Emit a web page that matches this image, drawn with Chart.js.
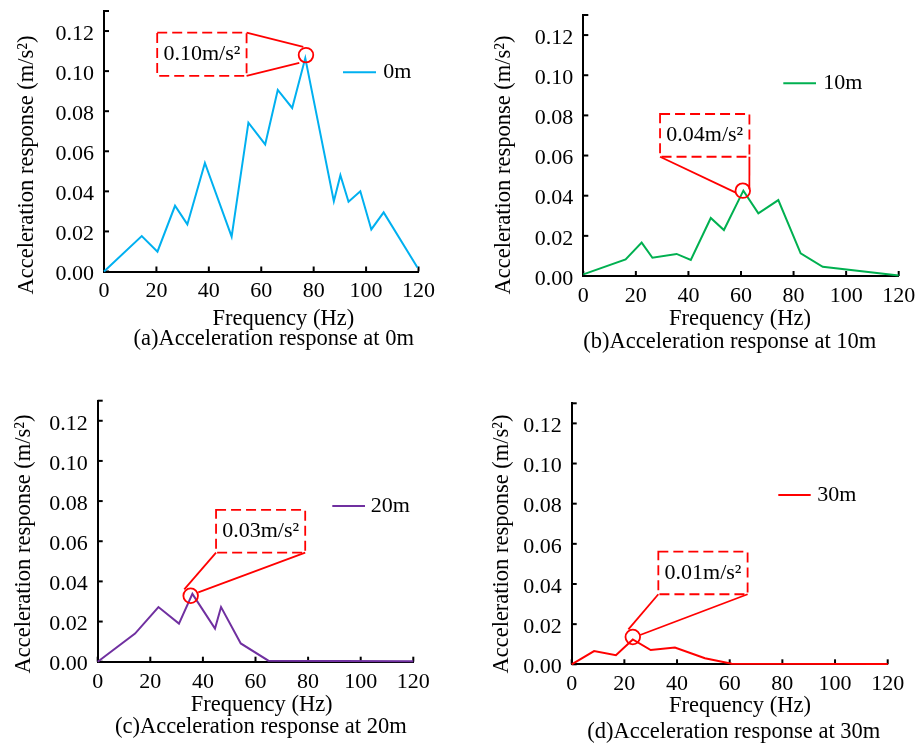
<!DOCTYPE html>
<html><head><meta charset="utf-8">
<script src="https://cdn.jsdelivr.net/npm/chart.js@4.4.1/dist/chart.umd.min.js"></script>
<style>
html,body{margin:0;padding:0;background:#fff;}
#wrap{position:relative;width:922px;height:744px;overflow:hidden;background:#fff;}
#wrap canvas{position:absolute;left:0;top:0;}
</style></head><body>
<div id="wrap">
<canvas id="c0" width="922" height="744"></canvas>
<canvas id="c1" width="922" height="744"></canvas>
<canvas id="c2" width="922" height="744"></canvas>
<canvas id="c3" width="922" height="744"></canvas>
</div>
<script>
// ---------- data ----------
const freqA = [0, 14.4, 20.4, 27.1, 31.8, 38.5, 48.7, 55.1, 61.5, 66.3, 71.8, 76.8, 87.7, 90.2, 93.3, 97.8, 102, 106.7, 119.6];
const accA  = [0, 0.0177, 0.0099, 0.0328, 0.0235, 0.0542, 0.0174, 0.0743, 0.0634, 0.0906, 0.0816, 0.1065, 0.0351, 0.0480, 0.0348, 0.0400, 0.0210, 0.0295, 0.0020];
const freqB = [0, 16.1, 22.2, 26.3, 35.5, 40.9, 48.5, 53.5, 60.9, 66.6, 74.2, 82.7, 91.1, 120];
const accB  = [0.0008, 0.0083, 0.0166, 0.0091, 0.0110, 0.0080, 0.0289, 0.0229, 0.0425, 0.0312, 0.0378, 0.0113, 0.0046, 0.0003];
const freqC = [0, 14.2, 23.1, 30.9, 36.0, 44.6, 46.9, 54.4, 64.9, 120];
const accC  = [0, 0.0140, 0.0272, 0.0190, 0.0338, 0.0165, 0.0272, 0.0091, 0.0005, 0.0002];
const freqD = [0, 8.5, 16.8, 23.2, 30.0, 39.2, 50.6, 60.8, 120];
const accD  = [0, 0.0066, 0.0045, 0.0124, 0.0071, 0.0084, 0.0030, 0.0003, 0.0002];

const seriesLabels = ['0m', '10m', '20m', '30m'];
const captions = ['(a)Acceleration response at 0m', '(b)Acceleration response at 10m',
                  '(c)Acceleration response at 20m', '(d)Acceleration response at 30m'];
const peakLabels = ['0.10m/s²', '0.04m/s²', '0.03m/s²', '0.01m/s²'];
const xTickValues = [0, 20, 40, 60, 80, 100, 120];
const xTickLabels = ['0', '20', '40', '60', '80', '100', '120'];
const yTickValues = [0, 0.02, 0.04, 0.06, 0.08, 0.10, 0.12];
const yTickLabels = ['0.00', '0.02', '0.04', '0.06', '0.08', '0.10', '0.12'];
const xAxisMax = 120;
const yAxisMax = 0.13;
const xTitle = 'Frequency (Hz)';
const yTitle = 'Acceleration response (m/s²)';

// ---------- layout & style ----------
const FONT = '"Liberation Serif", "Times New Roman", serif';
const seriesColors = ['#00B0F0', '#00B050', '#7030A0', '#FF0000'];
const annoColor = '#FF0000';
const W = 922, H = 744, YW = 80, XH = 40;
// chart-area rectangles [left, top, right, bottom] in page pixels
const areas = [[104, 11, 418.5, 271.5], [583.3, 15, 898.7, 276], [97.7, 400.7, 413.3, 661.7], [571.7, 403.3, 887.7, 664.3]];
const yTitlePos = [[27, 165], [504, 165], [24, 544], [502, 544]];
const xTitlePos = [[283.3, 319], [740, 319], [261.7, 705], [740, 706]];
const captionPos = [[273.7, 339], [729.8, 342], [260.8, 727], [733.8, 732]];
// legend: [lineStartX, y, lineEndX, textX]
const legendPos = [[343, 72.3, 376, 383.3], [783.3, 83.3, 816, 823.3], [332.3, 506, 365, 370.7], [778.3, 495, 810.7, 817.3]];
// callout boxes, in data units: [x1, x2], [y1, y2]
const boxXs = [[20.3, 54.4], [29.2, 63.2], [45, 78.9], [32.9, 66.8]];
const boxYs = [[0.0976, 0.1192], [0.0594, 0.0807], [0.0543, 0.0756], [0.0349, 0.0561]];
// circle shift (px) from the peak point
const circleShift = [[0.7, -3], [-0.6, 0], [-1.7, 1.9], [0, -2.4]];
// leader lines: [box corner, offset from circle centre (px)]
const leaders = [
  [['tr', [-2.7, -8.3]], ['br', [-6.7, 7.7]]],
  [['bl', [-7, 2]], ['br', [6.6, -1.4]]],
  [['bl', [-6.4, -6.4]], ['br', [7.6, -3.4]]],
  [['bl', [-4.4, -7.7]], ['br', [7.3, -2]]]
];

const freqs = [freqA, freqB, freqC, freqD];
const accs = [accA, accB, accC, accD];

const deco = {
  id: 'deco',
  beforeDatasetsDraw(chart, args, opts) {
    const ctx = chart.ctx, a = chart.chartArea, xs = chart.scales.x, ys = chart.scales.y;
    ctx.save();
    ctx.strokeStyle = '#000';
    ctx.lineWidth = 2;
    xs.ticks.forEach(t => {
      const px = xs.getPixelForValue(t.value);
      ctx.beginPath(); ctx.moveTo(px, a.bottom); ctx.lineTo(px, a.bottom - 5); ctx.stroke();
    });
    ys.ticks.forEach(t => {
      const py = ys.getPixelForValue(t.value);
      ctx.beginPath(); ctx.moveTo(a.left, py); ctx.lineTo(a.left + 5, py); ctx.stroke();
    });
    ctx.restore();
  },
  afterDraw(chart, args, opts) {
    const i = opts.idx;
    const ctx = chart.ctx, xs = chart.scales.x, ys = chart.scales.y;
    const ds = chart.data.datasets[0];
    ctx.save();
    // axis titles & caption
    ctx.fillStyle = '#000';
    ctx.font = '22.5px ' + FONT;
    ctx.textAlign = 'center';
    ctx.textBaseline = 'middle';
    ctx.fillText(xTitle, xTitlePos[i][0], xTitlePos[i][1]);
    ctx.fillText(captions[i], captionPos[i][0], captionPos[i][1]);
    ctx.save();
    ctx.translate(yTitlePos[i][0], yTitlePos[i][1]);
    ctx.rotate(-Math.PI / 2);
    ctx.fillText(yTitle, 0, 0);
    ctx.restore();
    // legend
    const lp = legendPos[i];
    ctx.strokeStyle = ds.borderColor;
    ctx.lineWidth = 2;
    ctx.beginPath(); ctx.moveTo(lp[0], lp[1]); ctx.lineTo(lp[2], lp[1]); ctx.stroke();
    ctx.textAlign = 'left';
    ctx.font = '22px ' + FONT;
    ctx.fillText(ds.label, lp[3], lp[1]);
    // callout
    const bx1 = xs.getPixelForValue(boxXs[i][0]), bx2 = xs.getPixelForValue(boxXs[i][1]);
    const by1 = ys.getPixelForValue(boxYs[i][1]), by2 = ys.getPixelForValue(boxYs[i][0]);
    ctx.strokeStyle = annoColor;
    ctx.lineWidth = 1.8;
    ctx.setLineDash([10, 5]);
    ctx.strokeRect(bx1, by1, bx2 - bx1, by2 - by1);
    ctx.setLineDash([]);
    const d = accs[i];
    let k = 0; d.forEach((v, j) => { if (v > d[k]) k = j; });
    const cx = xs.getPixelForValue(freqs[i][k]) + circleShift[i][0];
    const cy = ys.getPixelForValue(d[k]) + circleShift[i][1];
    ctx.beginPath(); ctx.arc(cx, cy, 7.3, 0, Math.PI * 2); ctx.stroke();
    const corner = c => [c[1] === 'l' ? bx1 : bx2, c[0] === 't' ? by1 : by2];
    leaders[i].forEach(([c, off]) => {
      const p = corner(c);
      ctx.beginPath(); ctx.moveTo(p[0], p[1]); ctx.lineTo(cx + off[0], cy + off[1]); ctx.stroke();
    });
    ctx.fillStyle = '#000';
    ctx.textAlign = 'center';
    ctx.font = '22px ' + FONT;
    ctx.fillText(peakLabels[i], (bx1 + bx2) / 2, (by1 + by2) / 2);
    ctx.restore();
  }
};

for (let i = 0; i < 4; i++) {
  const ar = areas[i];
  new Chart(document.getElementById('c' + i), {
    type: 'line',
    data: {
      datasets: [{
        label: seriesLabels[i],
        data: freqs[i].map((f, j) => ({x: f, y: accs[i][j]})),
        borderColor: seriesColors[i],
        backgroundColor: seriesColors[i],
        borderWidth: 2,
        pointRadius: 0,
        tension: 0,
        fill: false,
        clip: false
      }]
    },
    options: {
      responsive: false,
      animation: false,
      events: [],
      layout: {
        autoPadding: false,
        padding: {left: ar[0] - YW, top: ar[1], right: W - ar[2], bottom: H - ar[3] - XH}
      },
      plugins: {
        legend: {display: false},
        tooltip: {enabled: false},
        title: {display: false},
        deco: {idx: i}
      },
      scales: {
        x: {
          type: 'linear', min: 0, max: xAxisMax,
          grid: {display: false, drawTicks: false},
          border: {display: true, color: '#000', width: 2},
          ticks: {font: {family: FONT, size: 22}, color: '#000', padding: 7, maxRotation: 0, autoSkip: false,
                   callback: (v, j) => xTickLabels[j]},
          afterBuildTicks: s => { s.ticks = xTickValues.map(v => ({value: v})); },
          afterFit: s => { s.height = XH; s.paddingLeft = 0; s.paddingRight = 0; }
        },
        y: {
          type: 'linear', min: 0, max: yAxisMax,
          grid: {display: false, drawTicks: false},
          border: {display: true, color: '#000', width: 2},
          ticks: {font: {family: FONT, size: 22}, color: '#000', padding: 10, labelOffset: 3, autoSkip: false,
                  callback: (v, j) => (j < yTickLabels.length ? yTickLabels[j] : '')},
          afterBuildTicks: s => { s.ticks = yTickValues.map(v => ({value: v})).concat([{value: yAxisMax}]); },
          afterFit: s => { s.width = YW; s.paddingTop = 0; s.paddingBottom = 0; }
        }
      }
    },
    plugins: [deco]
  });
}
</script>
</body></html>
